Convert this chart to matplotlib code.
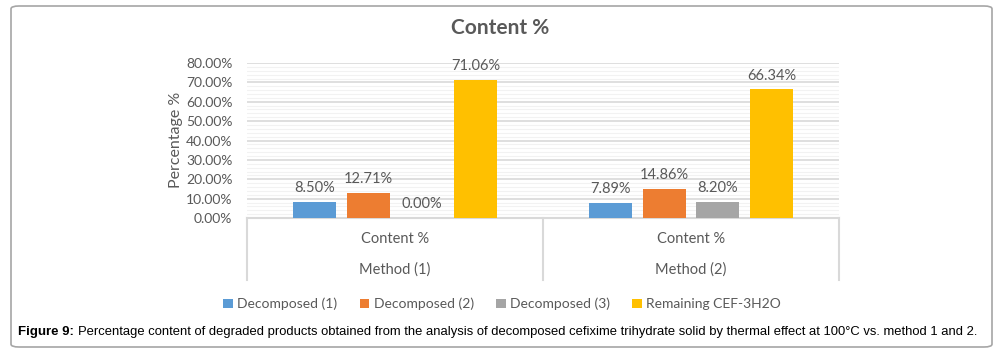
import numpy as np
import matplotlib
matplotlib.use("Agg")
from matplotlib import pyplot as plt
from matplotlib.patches import FancyBboxPatch

methods = ["Method (1)", "Method (2)"]
series = ["Decomposed (1)", "Decomposed (2)", "Decomposed (3)", "Remaining CEF-3H2O"]
values = [
    [0.0850, 0.0789],
    [0.1271, 0.1486],
    [0.0000, 0.0820],
    [0.7106, 0.6634],
]
colors = ["#5B9BD5", "#ED7D31", "#A5A5A5", "#FFC000"]
text_gray = "#595959"

plt.rcParams['font.family'] = ['Lato', 'DejaVu Sans']

fig = plt.figure(figsize=(10.03, 3.53), dpi=100)
W, H = 1003, 353
ax = fig.add_axes([247 / W, 1 - 218 / H, (839 - 247) / W, (218 - 63) / H])

x = np.arange(len(methods))
step = 0.182
width = 0.145
for i, (name, vals) in enumerate(zip(series, values)):
    pos = x + (i - 1.5) * step
    bars = ax.bar(pos, vals, width, color=colors[i], label=name, zorder=3)
    for b, v in zip(bars, vals):
        ax.annotate('{:.2f}%'.format(v * 100), (b.get_x() + b.get_width() / 2, v),
                    xytext=(0, 5), textcoords='offset points', ha='center', va='bottom',
                    fontsize=10.5, color=text_gray)

ax.set_xlim(-0.5, 1.5)
ax.set_ylim(0, 0.8)
ax.set_yticks(np.arange(0, 0.81, 0.1))
ax.set_yticklabels(['{:.2f}%'.format(t * 100) for t in np.arange(0, 0.81, 0.1)])
ax.set_yticks(np.arange(0, 0.81, 0.02), minor=True)
ax.tick_params(axis='y', which='both', length=0, labelsize=10, labelcolor=text_gray, pad=10.5)
ax.tick_params(axis='x', which='both', length=0, labelbottom=False)
ax.grid(axis='y', which='major', color='#D9D9D9', linewidth=1.2, zorder=0)
ax.grid(axis='y', which='minor', color='#F2F2F2', linewidth=0.8, zorder=0)
for s in ['top', 'right', 'left']:
    ax.spines[s].set_visible(False)
ax.spines['bottom'].set_color('#D9D9D9')
ax.spines['bottom'].set_linewidth(1.5)

# category separators and labels below the axis
trans = ax.get_xaxis_transform()
for xv in [-0.5, 0.5, 1.5]:
    ax.plot([xv, xv], [0, -0.4], transform=trans, color='#D9D9D9', lw=1.5, clip_on=False)
for xi, m in zip(x, methods):
    ax.text(xi, -0.135, 'Content %', transform=trans, ha='center', va='center',
            fontsize=10.5, color=text_gray)
    ax.text(xi, -0.335, m, transform=trans, ha='center', va='center',
            fontsize=10.5, color=text_gray)

fig.text(176 / W, 1 - 140 / H, 'Percentage %', rotation=90, ha='center', va='center',
         fontsize=11.5, color=text_gray)
fig.text(500 / W, 1 - 28 / H, 'Content %', ha='center', va='center',
         fontsize=15, fontweight='bold', color=text_gray)

fig.legend(loc='center', bbox_to_anchor=(502 / W, 1 - 304 / H), ncol=4, frameon=False,
           fontsize=10, handlelength=0.7, handleheight=0.7, handletextpad=0.3,
           columnspacing=1.6, labelcolor=text_gray)

# caption
renderer = fig.canvas.get_renderer()
t1 = fig.text(18 / W, 1 - 332 / H, 'Figure 9:', ha='left', va='center', fontsize=9.5,
              fontweight='bold', family='Liberation Sans', color='black')
bb = t1.get_window_extent(renderer)
fig.text(bb.x1 / W + 4 / W, 1 - 332 / H,
         'Percentage content of degraded products obtained from the analysis of decomposed '
         'cefixime trihydrate solid by thermal effect at 100\u00b0C vs. method 1 and 2.',
         ha='left', va='center', fontsize=9.4, family='Liberation Sans', color='black')

fig.patches.append(FancyBboxPatch((11 / W, 6 / H), 981 / W, 341 / H,
                                  boxstyle='round,pad=0,rounding_size=0.008',
                                  transform=fig.transFigure, facecolor='none',
                                  edgecolor='#A6A6A6', linewidth=1.2))

fig.savefig('out.png', dpi=100)
